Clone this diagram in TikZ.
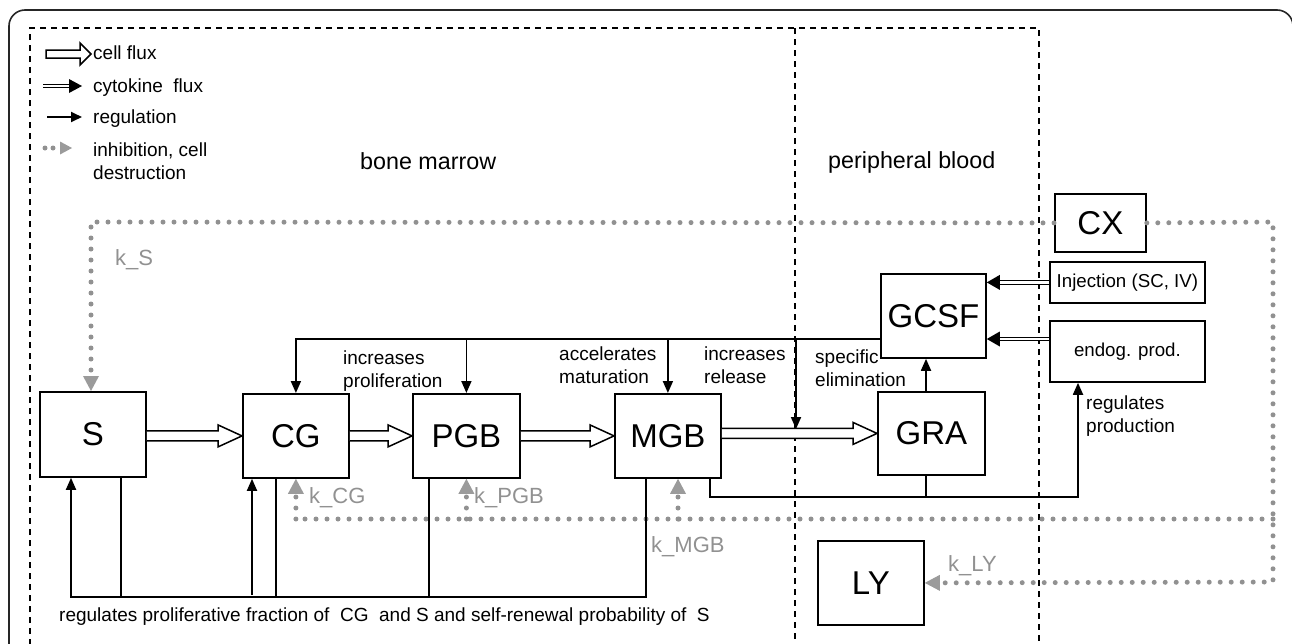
\documentclass[tikz,border=0pt]{standalone}
\usepackage{fontspec}
\setmainfont{Liberation Sans}
\usetikzlibrary{arrows.meta,calc}
\definecolor{dotgray}{RGB}{145,145,145}
\definecolor{tipgray}{RGB}{155,155,155}
\newcommand\cellflux[2]{%
  \draw[cellfl] let \p1=(#1.east), \p2=(#2.west) in
    (\x1,\y2+5pt) -- (\x2-24pt,\y2+5pt) -- (\x2-24pt,\y2+11pt) -- (\x2,\y2)
    -- (\x2-24pt,\y2-11pt) -- (\x2-24pt,\y2-5pt) -- (\x1,\y2-5pt);}
\newcommand\cyto[2]{%
  \draw[cytol] (#1) -- ($(#2)+(12,0)$);
  \fill (#2) -- ++(13,7.5) -- ++(0,-15) -- cycle;}
\begin{document}
\begin{tikzpicture}[x=1pt,y=-1pt,
  box/.style={draw, line width=1.8pt, fill=white, inner sep=0pt, anchor=north west,
    font=\fontsize{33}{36}\selectfont},
  sbox/.style={draw, line width=1.8pt, fill=white, inner sep=0pt, anchor=north west,
    font=\fontsize{18.7}{22}\selectfont},
  small/.style={font=\fontsize{19}{23}\selectfont, inner sep=0pt, align=left, anchor=west},
  region/.style={font=\fontsize{23.3}{26}\selectfont, inner sep=0pt, anchor=west},
  klabel/.style={text=dotgray, font=\fontsize{22}{24}\selectfont, inner sep=0pt, anchor=west},
  reg/.style={line width=1.8pt},
  regarrow/.style={reg, -{Triangle[length=12pt,width=10pt]}},
  dots/.style={dotgray, line width=5pt, line cap=round, dash pattern=on 0pt off 11pt},
  inhib/.style={dots, -{Triangle[length=15pt,width=16pt,line width=0pt,color=tipgray]}},
  cellfl/.style={draw, line width=1.5pt, fill=white, line join=miter},
  cytol/.style={double, double distance=2.2pt, line width=1.1pt},
  dashline/.style={line width=1.8pt, dash pattern=on 6pt off 5pt}
]
\useasboundingbox (0,0) rectangle (1292,643);
\clip (0,0) rectangle (1292,643);

% frame and regions
\draw[line width=1.6pt, rounded corners=16pt, black!85] (9,10) rectangle (1293,700);
\draw[dashline] (30,700) -- (30,28) -- (1039,28) -- (1039,700);
\draw[dashline] (795,28) -- (795,700);

% legend
\draw[cellfl] (46,50) -- (80,50) -- (80,43) -- (91,54) -- (80,65) -- (80,58) -- (46,58) -- cycle;
\node[small] (lcf) at (93,53) {cell flux};
\draw[cytol] (43,86) -- (70,86);
\fill (82,86) -- (69,79) -- (69,93) -- cycle;
\node[small] (lcy) at (93,88) {cytokine\ \ flux};
\draw[reg, -{Triangle[length=11pt,width=10pt]}] (47,117) -- (82,117);
\node[small] (lreg) at (93,119) {regulation};
\draw[dots, dash pattern=on 0pt off 8pt, -{Triangle[length=12pt,width=13pt,line width=0pt,color=tipgray]}] (45,148) -- (72,148);
\node[small] (linh) at (93,161.5) {inhibition, cell\\destruction};

\node[region] (bm) at (360,161) {bone marrow};
\node[region] (pb) at (828,162) {peripheral blood};

% boxes
\node[box, minimum width=106pt, minimum height=85pt] (S) at (39,391) {S};
\node[box, minimum width=106pt, minimum height=84pt] (CG) at (242,393) {CG};
\node[box, minimum width=107pt, minimum height=84pt] (PGB) at (412,393) {PGB};
\node[box, minimum width=106pt, minimum height=84pt] (MGB) at (614,393) {MGB};
\node[box, minimum width=107pt, minimum height=83pt] (GRA) at (877,391) {GRA};
\node[box, minimum width=105pt, minimum height=84pt] (GCSF) at (880,273) {GCSF};
\node[box, minimum width=91pt, minimum height=58pt] (CX) at (1054,193) {CX};
\node[sbox, minimum width=155pt, minimum height=41pt] (inj) at (1049,261) {Injection (SC, IV)};
\node[sbox, minimum width=155pt, minimum height=61pt] (endog) at (1049,320) {endog. prod.};
\node[box, minimum width=106pt, minimum height=84pt] (LY) at (817,540) {LY};

% inhibition / destruction (dotted)
\draw[inhib] (CX.west) -- (91,222) -- (S.north -| 91,0);
\draw[inhib] (CX.east) -- (1273,222) -- (1273,582) -- (LY.east);
\draw[dots] (1273,519) -- (295,519);
\draw[inhib] (CG.south |- 0,519) -- (CG.south);
\draw[inhib] (PGB.south |- 0,519) -- (PGB.south);
\draw[inhib] (678,519) -- (MGB.south -| 678,0);
\node[klabel] (kS) at (115,260) {k\_S};
\node[klabel] (kCG) at (309,498) {k\_CG};
\node[klabel] (kPGB) at (474,498) {k\_PGB};
\node[klabel] (kMGB) at (651,547) {k\_MGB};
\node[klabel] (kLY) at (948,566) {k\_LY};

% cell flux
\cellflux{S}{CG}
\cellflux{CG}{PGB}
\cellflux{PGB}{MGB}
\cellflux{MGB}{GRA}

% cytokine flux
\cyto{inj.west}{GCSF.east |- inj.west}
\coordinate (gl) at (GCSF.west |- 0,339);
\cyto{endog.west |- gl}{GCSF.east |- gl}

% regulation from GCSF
\draw[regarrow] (gl) -| (CG.north);
\draw[regarrow] (gl -| PGB.north) -- (PGB.north);
\draw[regarrow] (gl -| MGB.north) -- (MGB.north);
\draw[regarrow] (gl -| 796,0) -- (796,429);
\draw[regarrow] (GRA.north -| 926,0) -- (GCSF.south -| 926,0);
\draw[regarrow] (MGB.south -| 710,0) |- (1078,497) -- (endog.south -| 1078,0);
\draw[reg] (GRA.south -| 926,0) -- (926,497);

% regulation at bottom
\draw[regarrow] (MGB.south -| 646,0) |- (71,597) -- (S.south -| 71,0);
\draw[reg] (S.south -| 121,0) -- (121,597);
\draw[reg] (CG.south -| 276,0) -- (276,597);
\draw[reg] (PGB.south -| 429,0) -- (429,597);
\draw[regarrow] (252,595) -- (CG.south -| 252,0);

% labels
\node[small] (t1) at (343,371.5) {increases\\proliferation};
\node[small] (t2) at (559,365.5) {accelerates\\maturation};
\node[small] (t3) at (704,365.5) {increases\\release};
\node[small] (t4) at (815,368) {specific\\elimination};
\node[small] (t5) at (1086,416.5) {regulates\\production};
\node[small] (t6) at (59,617) {regulates proliferative fraction of\ \ CG\ \ and S and self-renewal probability of\ \ S};
\end{tikzpicture}
\end{document}
